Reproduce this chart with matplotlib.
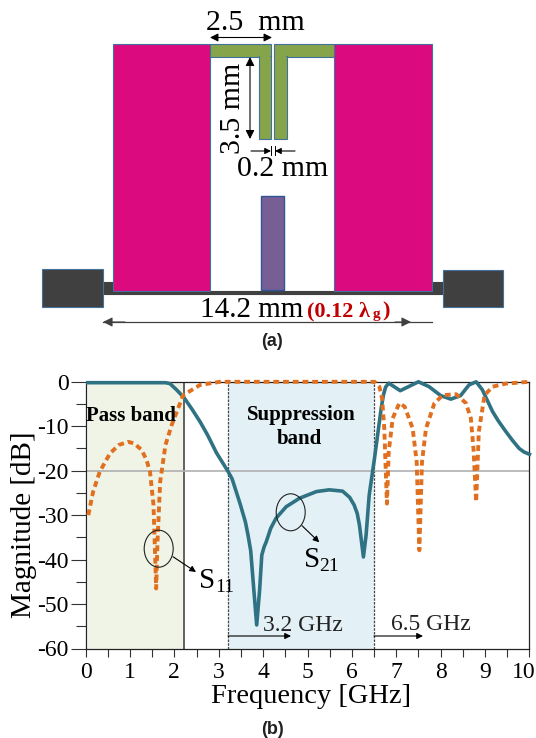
import matplotlib
matplotlib.use('Agg')
import matplotlib.pyplot as plt
from matplotlib.patches import Rectangle, Ellipse
from matplotlib.transforms import ScaledTranslation

plt.rcParams['font.family'] = ['Liberation Serif', 'DejaVu Serif']
plt.rcParams['axes.unicode_minus'] = False

# S parameters
s21_f = [0.05, 1.0, 1.8, 1.9, 2.05, 2.22, 2.4, 2.58, 2.75, 2.95, 3.2, 3.3, 3.48, 3.6, 3.66, 3.72, 3.8, 3.855, 3.92,
         3.97, 4.02, 4.07, 4.17, 4.29, 4.52, 4.82, 5.2, 5.49, 5.79, 5.95, 6.05, 6.12, 6.17, 6.26, 6.32, 6.39, 6.51,
         6.66, 6.71, 6.76, 6.83, 7.09, 7.5, 7.74, 8.0, 8.23, 8.45, 8.64, 8.8, 8.94, 9.17, 9.3, 9.47, 9.62, 9.77, 9.88,
         10.0]
s21_db = [-0.2, -0.2, -0.2, -0.4, -1.8, -3.6, -6.2, -9, -12, -16, -20, -21.8, -27.4, -31.5, -34.5, -38, -48, -54.7, -47,
          -39, -37.2, -36, -33, -30.7, -28.1, -26.2, -24.7, -24.3, -24.6, -26, -27.7, -29.6, -32.2, -39.4, -34.5, -25.5,
          -17.2, -6, -3, -1.2, -0.3, -2, 0, -1.1, -3.1, -3.9, -3.1, -0.7, 0, -1.8, -6.7, -8.8, -11.2, -13.2, -15, -15.8,
          -16.3]
s11_f = [0.06, 0.17, 0.32, 0.55, 0.75, 0.96, 1.1, 1.26, 1.37, 1.45, 1.53, 1.59, 1.62, 1.68, 1.8, 1.94, 2.2, 2.58, 3.03,
         6.51, 6.62, 6.68, 6.73, 6.79, 6.83, 6.92, 7.07, 7.19, 7.37, 7.46, 7.52, 7.58, 7.67, 7.86, 8.05, 8.35, 8.57, 8.68,
         8.74, 8.8, 8.86, 8.99, 9.17, 9.47, 10.0]
s11_db = [-30, -24.7, -20.2, -16.1, -14.2, -13.5, -13.9, -15.3, -17.5, -20.2, -27.7, -46.5, -36, -22.5, -14.2, -9.7, -3,
          -0.7, 0, 0, -1.1, -3.7, -10.5, -27.4, -15.7, -8.2, -4.8, -5.6, -10.5, -18, -37.9, -18, -10.5, -4.8, -3, -2.8,
          -4.8, -8.2, -15, -27, -11.2, -3, -1.1, -0.4, 0]
pass_band = [0.05, 2.22]
stop_band = [3.2, 6.5]
x_ticks = [0, 1, 2, 3, 4, 5, 6, 7, 8, 9, 10]
y_ticks = [0, -10, -20, -30, -40, -50, -60]

W, H = 536, 738
fig = plt.figure(figsize=(W / 100, H / 100), dpi=100)

# lower plot
ax = fig.add_axes([85.6 / W, 1 - 648.5 / H, (529.4 - 85.6) / W, (648.5 - 381.8) / H])
ax.axvspan(pass_band[0], pass_band[1], color='#f0f4e6', zorder=0, lw=0)
ax.axvspan(stop_band[0], stop_band[1], color='#e3f1f6', zorder=0, lw=0)
ax.axvline(pass_band[1], color='#555555', lw=1.3, zorder=1)
ax.axvline(stop_band[0], color='#444444', lw=0.9, ls=(0, (2, 1)), zorder=1)
ax.axvline(stop_band[1], color='#444444', lw=0.9, ls=(0, (2, 1)), zorder=1)
ax.axhline(-20, color='#b0b0b0', lw=1.2, zorder=1)
ax.plot(s21_f, s21_db, color='#2f7283', lw=2.6, zorder=3, clip_on=False)
ax.plot(s11_f, s11_db, color='#e0701f', lw=2.8, ls=(0, (1.5, 1.0)), zorder=4, clip_on=False)
ax.set_xlim(0, 10)
ax.set_ylim(-60, 0)
ax.set_xticks(x_ticks)
ax.set_yticks(y_ticks)
ax.set_xticks([i + 0.5 for i in range(10)], minor=True)
ax.set_yticks([-5, -15, -25, -35, -45, -55], minor=True)
ax.tick_params(which='both', width=0.8, color='#333333', labelsize=17)
ax.tick_params(axis='x', which='both', length=5.5, pad=4)
ax.tick_params(axis='y', which='major', length=11, pad=1)
ax.tick_params(axis='y', which='minor', length=7)
ax.set_xlabel('Frequency [GHz]', fontsize=20.5, labelpad=1, x=0.509)
ax.set_ylabel('Magnitude [dB]', fontsize=21, labelpad=0, y=0.463)
ax.patch.set_alpha(0)
for s in ax.spines.values():
    s.set_linewidth(0.9)
    s.set_color('#222222')
# the 10 sits slightly left of its tick so it stays inside the figure
last = ax.get_xticklabels()[-1]
last.set_transform(last.get_transform() + ScaledTranslation(-5.8 / 100, 0, fig.dpi_scale_trans))

# overlay in pixel coordinates for the schematic and the annotations
ov = fig.add_axes([0, 0, 1, 1], zorder=5)
ov.set_xlim(0, W)
ov.set_ylim(H, 0)
ov.axis('off')


def box(x0, y0, x1, y1, fc, ec='#41719c', lw=0.8):
    ov.add_patch(Rectangle((x0, y0), x1 - x0, y1 - y0, fc=fc, ec=ec, lw=lw))


def arrow(x0, y0, x1, y1, style='-|>', color='black', lw=0.8, scale=9):
    ov.annotate('', xy=(x1, y1), xytext=(x0, y0),
                arrowprops=dict(arrowstyle=style, color=color, lw=lw, shrinkA=0, shrinkB=0, mutation_scale=scale))


box(102, 282, 114, 293, '#404040', '#404040')
box(431, 282, 443, 293, '#404040', '#404040')
box(102, 290.5, 443, 293.5, '#404040', '#404040')
box(113.3, 44, 210.3, 290.7, '#dc0a7f')
box(334.3, 44, 431.7, 290.7, '#dc0a7f')
green = '#86a44a'
box(210.3, 44, 270.7, 56.7, green)
box(258.7, 56, 270.7, 139.3, green)
box(274.3, 44, 334.3, 56.7, green)
box(274.3, 56, 286.7, 139.3, green)
ov.add_patch(Rectangle((259.5, 55), 10.5, 3, fc=green, ec='none'))
ov.add_patch(Rectangle((275, 55), 11, 3, fc=green, ec='none'))
box(260.7, 195.7, 283.7, 290, '#775f95', '#2f5597', 1.0)
box(42, 268.7, 102.7, 306.7, '#404040')
box(442.7, 270, 503.3, 307.3, '#404040')

arrow(210, 37.5, 272, 37.5, '<|-|>', scale=12)
arrow(250, 57, 250, 139, '<|-|>', scale=13)
arrow(251, 151, 271, 151)
arrow(295, 151, 275, 151)
ov.plot([271, 271], [146, 155], color='black', lw=0.7)
ov.plot([275, 275], [146, 155], color='black', lw=0.7)
ov.plot([103, 432], [322, 322], color='#404040', lw=0.9)
arrow(125, 322, 103, 322, color='#404040', scale=14)
arrow(395, 322, 411, 322, color='#404040', scale=14)

ov.text(205.5, 30, '2.5  mm', fontsize=21.5, ha='left', va='baseline')
ov.text(240, 154, '3.5 mm', fontsize=21.5, rotation=90, ha='left', va='baseline', rotation_mode='anchor')
ov.text(237, 176, '0.2 mm', fontsize=21.5, ha='left', va='baseline')
ov.text(200.5, 317, '14.2 mm', fontsize=21, ha='left', va='baseline')
ov.text(307, 316, '(0.12 λ', fontsize=16, color='#c00000', fontweight='bold', ha='left', va='baseline')
ov.text(373, 318, 'g', fontsize=11, color='#c00000', fontweight='bold', ha='left', va='baseline')
ov.text(382, 316, ')', fontsize=16, color='#c00000', fontweight='bold', ha='left', va='baseline')
ov.text(272.5, 341.5, '(a)', fontsize=13, fontweight='bold', family='Liberation Sans', ha='center', va='center', color='#222222')
ov.text(272, 730, '(b)', fontsize=13, fontweight='bold', family='Liberation Sans', ha='center', va='center', color='#222222')

ov.text(131, 416, 'Pass band', fontsize=15, fontweight='bold', ha='center', va='center')
ov.text(301, 415, 'Suppression', fontsize=15, fontweight='bold', ha='center', va='center')
ov.text(299, 439, 'band', fontsize=15, fontweight='bold', ha='center', va='center')

ov.add_patch(Ellipse((158.7, 548.7), 29, 37, fc='none', ec='#222222', lw=0.8))
arrow(173, 556.7, 196, 572)
ov.text(199, 588, 'S', fontsize=21, ha='left', va='baseline')
ov.text(215, 592, '11', fontsize=14, ha='left', va='baseline')
ov.add_patch(Ellipse((290.7, 512.3), 29, 37, fc='none', ec='#222222', lw=0.8))
arrow(302, 525.7, 319.3, 542.3)
ov.text(304, 567, 'S', fontsize=21, ha='left', va='baseline')
ov.text(319.5, 571, '21', fontsize=14, ha='left', va='baseline')

arrow(228, 636, 291, 636)
arrow(374, 636, 423, 636)
ov.text(263, 631, '3.2 GHz', fontsize=17, ha='left', va='baseline', color='#222222')
ov.text(391, 630, '6.5 GHz', fontsize=17, ha='left', va='baseline', color='#222222')

fig.savefig('out.png', dpi=100)
